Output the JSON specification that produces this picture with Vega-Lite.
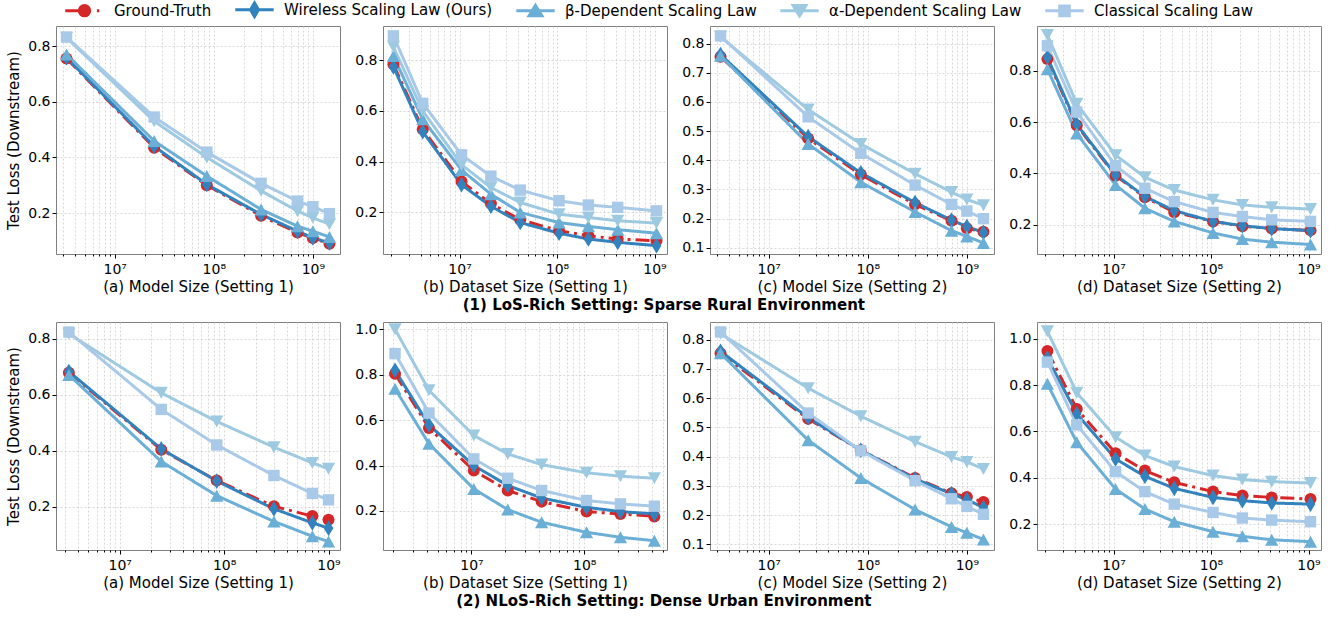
{
"$schema": "https://vega.github.io/schema/vega-lite/v6.json",
"padding": {"left": 6, "top": 0, "right": 5, "bottom": 5},
"background": "white",
"datasets": {"d": [
{"p":"r1a","s":"GT","x":3260000,"y":0.755},{"p":"r1a","s":"GT","x":25000000,"y":0.435},{"p":"r1a","s":"GT","x":85000000,"y":0.300},{"p":"r1a","s":"GT","x":300000000,"y":0.190},{"p":"r1a","s":"GT","x":700000000,"y":0.130},{"p":"r1a","s":"GT","x":1000000000,"y":0.110},{"p":"r1a","s":"GT","x":1470000000,"y":0.090},
{"p":"r1a","s":"W","x":3260000,"y":0.758},{"p":"r1a","s":"W","x":25000000,"y":0.440},{"p":"r1a","s":"W","x":85000000,"y":0.303},{"p":"r1a","s":"W","x":300000000,"y":0.195},{"p":"r1a","s":"W","x":700000000,"y":0.135},{"p":"r1a","s":"W","x":1000000000,"y":0.111},{"p":"r1a","s":"W","x":1470000000,"y":0.093},
{"p":"r1a","s":"B","x":3260000,"y":0.770},{"p":"r1a","s":"B","x":25000000,"y":0.459},{"p":"r1a","s":"B","x":85000000,"y":0.333},{"p":"r1a","s":"B","x":300000000,"y":0.213},{"p":"r1a","s":"B","x":700000000,"y":0.153},{"p":"r1a","s":"B","x":1000000000,"y":0.135},{"p":"r1a","s":"B","x":1470000000,"y":0.114},
{"p":"r1a","s":"A","x":3260000,"y":0.830},{"p":"r1a","s":"A","x":25000000,"y":0.530},{"p":"r1a","s":"A","x":85000000,"y":0.400},{"p":"r1a","s":"A","x":300000000,"y":0.280},{"p":"r1a","s":"A","x":700000000,"y":0.207},{"p":"r1a","s":"A","x":1000000000,"y":0.183},{"p":"r1a","s":"A","x":1470000000,"y":0.160},
{"p":"r1a","s":"C","x":3260000,"y":0.832},{"p":"r1a","s":"C","x":25000000,"y":0.545},{"p":"r1a","s":"C","x":85000000,"y":0.419},{"p":"r1a","s":"C","x":300000000,"y":0.307},{"p":"r1a","s":"C","x":700000000,"y":0.243},{"p":"r1a","s":"C","x":1000000000,"y":0.223},{"p":"r1a","s":"C","x":1470000000,"y":0.198},

{"p":"r1b","s":"GT","x":2097152,"y":0.784},{"p":"r1b","s":"GT","x":4194304,"y":0.528},{"p":"r1b","s":"GT","x":10485760,"y":0.322},{"p":"r1b","s":"GT","x":20971520,"y":0.235},{"p":"r1b","s":"GT","x":41943040,"y":0.171},{"p":"r1b","s":"GT","x":104857600,"y":0.128},{"p":"r1b","s":"GT","x":209715200,"y":0.108},{"p":"r1b","s":"GT","x":419430400,"y":0.095},{"p":"r1b","s":"GT","x":1048576000,"y":0.088},
{"p":"r1b","s":"W","x":2097152,"y":0.774},{"p":"r1b","s":"W","x":4194304,"y":0.518},{"p":"r1b","s":"W","x":10485760,"y":0.309},{"p":"r1b","s":"W","x":20971520,"y":0.224},{"p":"r1b","s":"W","x":41943040,"y":0.160},{"p":"r1b","s":"W","x":104857600,"y":0.118},{"p":"r1b","s":"W","x":209715200,"y":0.095},{"p":"r1b","s":"W","x":419430400,"y":0.082},{"p":"r1b","s":"W","x":1048576000,"y":0.069},
{"p":"r1b","s":"B","x":2097152,"y":0.817},{"p":"r1b","s":"B","x":4194304,"y":0.567},{"p":"r1b","s":"B","x":10485760,"y":0.367},{"p":"r1b","s":"B","x":20971520,"y":0.272},{"p":"r1b","s":"B","x":41943040,"y":0.200},{"p":"r1b","s":"B","x":104857600,"y":0.160},{"p":"r1b","s":"B","x":209715200,"y":0.145},{"p":"r1b","s":"B","x":419430400,"y":0.132},{"p":"r1b","s":"B","x":1048576000,"y":0.118},
{"p":"r1b","s":"A","x":2097152,"y":0.853},{"p":"r1b","s":"A","x":4194304,"y":0.600},{"p":"r1b","s":"A","x":10485760,"y":0.388},{"p":"r1b","s":"A","x":20971520,"y":0.298},{"p":"r1b","s":"A","x":41943040,"y":0.239},{"p":"r1b","s":"A","x":104857600,"y":0.193},{"p":"r1b","s":"A","x":209715200,"y":0.180},{"p":"r1b","s":"A","x":419430400,"y":0.167},{"p":"r1b","s":"A","x":1048576000,"y":0.158},
{"p":"r1b","s":"C","x":2097152,"y":0.896},{"p":"r1b","s":"C","x":4194304,"y":0.630},{"p":"r1b","s":"C","x":10485760,"y":0.427},{"p":"r1b","s":"C","x":20971520,"y":0.343},{"p":"r1b","s":"C","x":41943040,"y":0.288},{"p":"r1b","s":"C","x":104857600,"y":0.246},{"p":"r1b","s":"C","x":209715200,"y":0.229},{"p":"r1b","s":"C","x":419430400,"y":0.220},{"p":"r1b","s":"C","x":1048576000,"y":0.206},

{"p":"r1c","s":"GT","x":3260000,"y":0.755},{"p":"r1c","s":"GT","x":25000000,"y":0.475},{"p":"r1c","s":"GT","x":85000000,"y":0.351},{"p":"r1c","s":"GT","x":300000000,"y":0.249},{"p":"r1c","s":"GT","x":700000000,"y":0.193},{"p":"r1c","s":"GT","x":1000000000,"y":0.167},{"p":"r1c","s":"GT","x":1470000000,"y":0.155},
{"p":"r1c","s":"W","x":3260000,"y":0.762},{"p":"r1c","s":"W","x":25000000,"y":0.481},{"p":"r1c","s":"W","x":85000000,"y":0.357},{"p":"r1c","s":"W","x":300000000,"y":0.255},{"p":"r1c","s":"W","x":700000000,"y":0.195},{"p":"r1c","s":"W","x":1000000000,"y":0.173},{"p":"r1c","s":"W","x":1470000000,"y":0.153},
{"p":"r1c","s":"B","x":3260000,"y":0.758},{"p":"r1c","s":"B","x":25000000,"y":0.456},{"p":"r1c","s":"B","x":85000000,"y":0.325},{"p":"r1c","s":"B","x":300000000,"y":0.223},{"p":"r1c","s":"B","x":700000000,"y":0.159},{"p":"r1c","s":"B","x":1000000000,"y":0.139},{"p":"r1c","s":"B","x":1470000000,"y":0.117},
{"p":"r1c","s":"A","x":3260000,"y":0.823},{"p":"r1c","s":"A","x":25000000,"y":0.574},{"p":"r1c","s":"A","x":85000000,"y":0.456},{"p":"r1c","s":"A","x":300000000,"y":0.354},{"p":"r1c","s":"A","x":700000000,"y":0.291},{"p":"r1c","s":"A","x":1000000000,"y":0.266},{"p":"r1c","s":"A","x":1470000000,"y":0.246},
{"p":"r1c","s":"C","x":3260000,"y":0.826},{"p":"r1c","s":"C","x":25000000,"y":0.549},{"p":"r1c","s":"C","x":85000000,"y":0.424},{"p":"r1c","s":"C","x":300000000,"y":0.315},{"p":"r1c","s":"C","x":700000000,"y":0.249},{"p":"r1c","s":"C","x":1000000000,"y":0.226},{"p":"r1c","s":"C","x":1470000000,"y":0.200},

{"p":"r1d","s":"GT","x":2097152,"y":0.845},{"p":"r1d","s":"GT","x":4194304,"y":0.587},{"p":"r1d","s":"GT","x":10485760,"y":0.391},{"p":"r1d","s":"GT","x":20971520,"y":0.307},{"p":"r1d","s":"GT","x":41943040,"y":0.249},{"p":"r1d","s":"GT","x":104857600,"y":0.213},{"p":"r1d","s":"GT","x":209715200,"y":0.194},{"p":"r1d","s":"GT","x":419430400,"y":0.185},{"p":"r1d","s":"GT","x":1048576000,"y":0.178},
{"p":"r1d","s":"W","x":2097152,"y":0.852},{"p":"r1d","s":"W","x":4194304,"y":0.591},{"p":"r1d","s":"W","x":10485760,"y":0.394},{"p":"r1d","s":"W","x":20971520,"y":0.310},{"p":"r1d","s":"W","x":41943040,"y":0.255},{"p":"r1d","s":"W","x":104857600,"y":0.213},{"p":"r1d","s":"W","x":209715200,"y":0.196},{"p":"r1d","s":"W","x":419430400,"y":0.185},{"p":"r1d","s":"W","x":1048576000,"y":0.177},
{"p":"r1d","s":"B","x":2097152,"y":0.806},{"p":"r1d","s":"B","x":4194304,"y":0.555},{"p":"r1d","s":"B","x":10485760,"y":0.355},{"p":"r1d","s":"B","x":20971520,"y":0.264},{"p":"r1d","s":"B","x":41943040,"y":0.213},{"p":"r1d","s":"B","x":104857600,"y":0.168},{"p":"r1d","s":"B","x":209715200,"y":0.144},{"p":"r1d","s":"B","x":419430400,"y":0.132},{"p":"r1d","s":"B","x":1048576000,"y":0.123},
{"p":"r1d","s":"A","x":2097152,"y":0.939},{"p":"r1d","s":"A","x":4194304,"y":0.671},{"p":"r1d","s":"A","x":10485760,"y":0.471},{"p":"r1d","s":"A","x":20971520,"y":0.385},{"p":"r1d","s":"A","x":41943040,"y":0.335},{"p":"r1d","s":"A","x":104857600,"y":0.297},{"p":"r1d","s":"A","x":209715200,"y":0.277},{"p":"r1d","s":"A","x":419430400,"y":0.268},{"p":"r1d","s":"A","x":1048576000,"y":0.261},
{"p":"r1d","s":"C","x":2097152,"y":0.897},{"p":"r1d","s":"C","x":4194304,"y":0.639},{"p":"r1d","s":"C","x":10485760,"y":0.430},{"p":"r1d","s":"C","x":20971520,"y":0.342},{"p":"r1d","s":"C","x":41943040,"y":0.290},{"p":"r1d","s":"C","x":104857600,"y":0.248},{"p":"r1d","s":"C","x":209715200,"y":0.232},{"p":"r1d","s":"C","x":419430400,"y":0.219},{"p":"r1d","s":"C","x":1048576000,"y":0.213},

{"p":"r2a","s":"GT","x":3260000,"y":0.679},{"p":"r2a","s":"GT","x":25000000,"y":0.404},{"p":"r2a","s":"GT","x":85000000,"y":0.294},{"p":"r2a","s":"GT","x":300000000,"y":0.202},{"p":"r2a","s":"GT","x":700000000,"y":0.167},{"p":"r2a","s":"GT","x":1000000000,"y":0.154},
{"p":"r2a","s":"W","x":3260000,"y":0.683},{"p":"r2a","s":"W","x":25000000,"y":0.407},{"p":"r2a","s":"W","x":85000000,"y":0.292},{"p":"r2a","s":"W","x":300000000,"y":0.193},{"p":"r2a","s":"W","x":700000000,"y":0.143},{"p":"r2a","s":"W","x":1000000000,"y":0.124},
{"p":"r2a","s":"B","x":3260000,"y":0.671},{"p":"r2a","s":"B","x":25000000,"y":0.362},{"p":"r2a","s":"B","x":85000000,"y":0.240},{"p":"r2a","s":"B","x":300000000,"y":0.148},{"p":"r2a","s":"B","x":700000000,"y":0.095},{"p":"r2a","s":"B","x":1000000000,"y":0.076},
{"p":"r2a","s":"A","x":3260000,"y":0.818},{"p":"r2a","s":"A","x":25000000,"y":0.607},{"p":"r2a","s":"A","x":85000000,"y":0.505},{"p":"r2a","s":"A","x":300000000,"y":0.413},{"p":"r2a","s":"A","x":700000000,"y":0.357},{"p":"r2a","s":"A","x":1000000000,"y":0.336},
{"p":"r2a","s":"C","x":3260000,"y":0.824},{"p":"r2a","s":"C","x":25000000,"y":0.548},{"p":"r2a","s":"C","x":85000000,"y":0.421},{"p":"r2a","s":"C","x":300000000,"y":0.312},{"p":"r2a","s":"C","x":700000000,"y":0.248},{"p":"r2a","s":"C","x":1000000000,"y":0.225},

{"p":"r2b","s":"GT","x":2097152,"y":0.804},{"p":"r2b","s":"GT","x":4194304,"y":0.565},{"p":"r2b","s":"GT","x":10485760,"y":0.378},{"p":"r2b","s":"GT","x":20971520,"y":0.290},{"p":"r2b","s":"GT","x":41943040,"y":0.241},{"p":"r2b","s":"GT","x":104857600,"y":0.197},{"p":"r2b","s":"GT","x":209715200,"y":0.187},{"p":"r2b","s":"GT","x":419430400,"y":0.176},
{"p":"r2b","s":"W","x":2097152,"y":0.819},{"p":"r2b","s":"W","x":4194304,"y":0.579},{"p":"r2b","s":"W","x":10485760,"y":0.400},{"p":"r2b","s":"W","x":20971520,"y":0.312},{"p":"r2b","s":"W","x":41943040,"y":0.257},{"p":"r2b","s":"W","x":104857600,"y":0.216},{"p":"r2b","s":"W","x":209715200,"y":0.197},{"p":"r2b","s":"W","x":419430400,"y":0.187},
{"p":"r2b","s":"B","x":2097152,"y":0.738},{"p":"r2b","s":"B","x":4194304,"y":0.496},{"p":"r2b","s":"B","x":10485760,"y":0.297},{"p":"r2b","s":"B","x":20971520,"y":0.206},{"p":"r2b","s":"B","x":41943040,"y":0.150},{"p":"r2b","s":"B","x":104857600,"y":0.106},{"p":"r2b","s":"B","x":209715200,"y":0.084},{"p":"r2b","s":"B","x":419430400,"y":0.069},
{"p":"r2b","s":"A","x":2097152,"y":1.000},{"p":"r2b","s":"A","x":4194304,"y":0.731},{"p":"r2b","s":"A","x":10485760,"y":0.532},{"p":"r2b","s":"A","x":20971520,"y":0.451},{"p":"r2b","s":"A","x":41943040,"y":0.404},{"p":"r2b","s":"A","x":104857600,"y":0.368},{"p":"r2b","s":"A","x":209715200,"y":0.353},{"p":"r2b","s":"A","x":419430400,"y":0.344},
{"p":"r2b","s":"C","x":2097152,"y":0.893},{"p":"r2b","s":"C","x":4194304,"y":0.631},{"p":"r2b","s":"C","x":10485760,"y":0.429},{"p":"r2b","s":"C","x":20971520,"y":0.344},{"p":"r2b","s":"C","x":41943040,"y":0.290},{"p":"r2b","s":"C","x":104857600,"y":0.246},{"p":"r2b","s":"C","x":209715200,"y":0.231},{"p":"r2b","s":"C","x":419430400,"y":0.221},

{"p":"r2c","s":"GT","x":3260000,"y":0.753},{"p":"r2c","s":"GT","x":25000000,"y":0.529},{"p":"r2c","s":"GT","x":85000000,"y":0.422},{"p":"r2c","s":"GT","x":300000000,"y":0.327},{"p":"r2c","s":"GT","x":700000000,"y":0.275},{"p":"r2c","s":"GT","x":1000000000,"y":0.262},{"p":"r2c","s":"GT","x":1470000000,"y":0.245},
{"p":"r2c","s":"W","x":3260000,"y":0.760},{"p":"r2c","s":"W","x":25000000,"y":0.533},{"p":"r2c","s":"W","x":85000000,"y":0.422},{"p":"r2c","s":"W","x":300000000,"y":0.324},{"p":"r2c","s":"W","x":700000000,"y":0.273},{"p":"r2c","s":"W","x":1000000000,"y":0.253},{"p":"r2c","s":"W","x":1470000000,"y":0.226},
{"p":"r2c","s":"B","x":3260000,"y":0.753},{"p":"r2c","s":"B","x":25000000,"y":0.456},{"p":"r2c","s":"B","x":85000000,"y":0.327},{"p":"r2c","s":"B","x":300000000,"y":0.219},{"p":"r2c","s":"B","x":700000000,"y":0.160},{"p":"r2c","s":"B","x":1000000000,"y":0.140},{"p":"r2c","s":"B","x":1470000000,"y":0.117},
{"p":"r2c","s":"A","x":3260000,"y":0.820},{"p":"r2c","s":"A","x":25000000,"y":0.634},{"p":"r2c","s":"A","x":85000000,"y":0.538},{"p":"r2c","s":"A","x":300000000,"y":0.451},{"p":"r2c","s":"A","x":700000000,"y":0.399},{"p":"r2c","s":"A","x":1000000000,"y":0.382},{"p":"r2c","s":"A","x":1470000000,"y":0.358},
{"p":"r2c","s":"C","x":3260000,"y":0.826},{"p":"r2c","s":"C","x":25000000,"y":0.549},{"p":"r2c","s":"C","x":85000000,"y":0.420},{"p":"r2c","s":"C","x":300000000,"y":0.318},{"p":"r2c","s":"C","x":700000000,"y":0.256},{"p":"r2c","s":"C","x":1000000000,"y":0.230},{"p":"r2c","s":"C","x":1470000000,"y":0.203},

{"p":"r2d","s":"GT","x":2097152,"y":0.947},{"p":"r2d","s":"GT","x":4194304,"y":0.697},{"p":"r2d","s":"GT","x":10485760,"y":0.506},{"p":"r2d","s":"GT","x":20971520,"y":0.431},{"p":"r2d","s":"GT","x":41943040,"y":0.380},{"p":"r2d","s":"GT","x":104857600,"y":0.340},{"p":"r2d","s":"GT","x":209715200,"y":0.323},{"p":"r2d","s":"GT","x":419430400,"y":0.315},{"p":"r2d","s":"GT","x":1048576000,"y":0.308},
{"p":"r2d","s":"W","x":2097152,"y":0.916},{"p":"r2d","s":"W","x":4194304,"y":0.676},{"p":"r2d","s":"W","x":10485760,"y":0.481},{"p":"r2d","s":"W","x":20971520,"y":0.406},{"p":"r2d","s":"W","x":41943040,"y":0.354},{"p":"r2d","s":"W","x":104857600,"y":0.315},{"p":"r2d","s":"W","x":209715200,"y":0.301},{"p":"r2d","s":"W","x":419430400,"y":0.291},{"p":"r2d","s":"W","x":1048576000,"y":0.286},
{"p":"r2d","s":"B","x":2097152,"y":0.805},{"p":"r2d","s":"B","x":4194304,"y":0.553},{"p":"r2d","s":"B","x":10485760,"y":0.351},{"p":"r2d","s":"B","x":20971520,"y":0.265},{"p":"r2d","s":"B","x":41943040,"y":0.210},{"p":"r2d","s":"B","x":104857600,"y":0.167},{"p":"r2d","s":"B","x":209715200,"y":0.147},{"p":"r2d","s":"B","x":419430400,"y":0.132},{"p":"r2d","s":"B","x":1048576000,"y":0.124},
{"p":"r2d","s":"A","x":2097152,"y":1.032},{"p":"r2d","s":"A","x":4194304,"y":0.767},{"p":"r2d","s":"A","x":10485760,"y":0.575},{"p":"r2d","s":"A","x":20971520,"y":0.496},{"p":"r2d","s":"A","x":41943040,"y":0.448},{"p":"r2d","s":"A","x":104857600,"y":0.409},{"p":"r2d","s":"A","x":209715200,"y":0.392},{"p":"r2d","s":"A","x":419430400,"y":0.383},{"p":"r2d","s":"A","x":1048576000,"y":0.377},
{"p":"r2d","s":"C","x":2097152,"y":0.899},{"p":"r2d","s":"C","x":4194304,"y":0.628},{"p":"r2d","s":"C","x":10485760,"y":0.426},{"p":"r2d","s":"C","x":20971520,"y":0.340},{"p":"r2d","s":"C","x":41943040,"y":0.286},{"p":"r2d","s":"C","x":104857600,"y":0.250},{"p":"r2d","s":"C","x":209715200,"y":0.226},{"p":"r2d","s":"C","x":419430400,"y":0.217},{"p":"r2d","s":"C","x":1048576000,"y":0.210}
]},
"data": {"name": "d"},
"config": {
  "font": "DejaVu Sans",
  "view": {"stroke": "#808080", "strokeWidth": 1},
  "axis": {"labelFont": "DejaVu Sans", "labelFontSize": 14, "labelColor": "#000", "titleFont": "DejaVu Sans", "titleFontSize": 15, "titleFontWeight": "normal", "titleColor": "#000", "domain": false, "tickColor": "#000", "tickWidth": 1, "gridColor": "#cfcfcf", "gridDash": [2, 2], "gridWidth": 0.8, "labelPadding": 2},
  "axisX": {"titlePadding": 3, "labelPadding": 4, "labelOverlap": false, "labelFlush": false},
  "axisY": {"titlePadding": 6, "tickSize": 4, "format": ".1f"},
  "legend": {"orient": "top", "direction": "horizontal", "labelFont": "DejaVu Sans", "labelFontSize": 15, "labelColor": "#000", "labelLimit": 400, "symbolSize": 256, "symbolStrokeWidth": 3, "labelOffset": 20, "columnPadding": 17, "offset": 2, "padding": 0, "layout": {"top": {"anchor": "middle"}}},
  "title": {"font": "DejaVu Sans", "fontSize": 15, "fontWeight": "bold", "color": "#000"}
},
"spacing": 8,
"vconcat": [
{"hconcat": [
 {"width": 284, "height": 228, "transform": [{"filter": "datum.p=='r1a'"}],
  "encoding": {
   "x": {"field": "x", "type": "quantitative", "scale": {"type": "log", "domain": [2553000, 1879000000], "nice": false}, "axis": {"title": "(a) Model Size (Setting 1)", "values": [3e6,4e6,5e6,6e6,7e6,8e6,9e6,1e7,2e7,3e7,4e7,5e7,6e7,7e7,8e7,9e7,1e8,2e8,3e8,4e8,5e8,6e8,7e8,8e8,9e8,1e9], "labelExpr": "datum.value==1e7?'10⁷':datum.value==1e8?'10⁸':datum.value==1e9?'10⁹':''", "tickSize": {"condition": {"test": "datum.value==1e7||datum.value==1e8||datum.value==1e9", "value": 4}, "value": 2}}},
   "y": {"field": "y", "type": "quantitative", "scale": {"domain": [0.053, 0.872], "nice": false, "zero": false}, "axis": {"title": "Test Loss (Downstream)", "values": [0.2, 0.4, 0.6, 0.8]}},
   "color": {"field": "s", "type": "nominal", "scale": {"domain": ["GT", "W", "B", "A", "C"], "range": ["#d62728", "#3182bd", "#6baed6", "#9ecae1", "#a9c9e8"]},
     "legend": {"title": null, "labelExpr": "datum.value=='GT'?'Ground-Truth':datum.value=='W'?'Wireless Scaling Law (Ours)':datum.value=='B'?'β-Dependent Scaling Law':datum.value=='A'?'α-Dependent Scaling Law':'Classical Scaling Law'",
       "encode": {"symbols": {"update": {"shape": {"signal": "datum.value=='GT'?'M-2.4,0H0M1.55,0H1.85M0.65,0A0.65,0.65,0,1,1,-0.65,0A0.65,0.65,0,1,1,0.65,0Z':datum.value=='W'?'M-2.4,0H2.4M0,-0.85L0.5,0L0,0.85L-0.5,0Z':datum.value=='B'?'M-2.4,0H2.4M0,-0.65L0.8,0.65L-0.8,0.65Z':datum.value=='A'?'M-2.4,0H2.4M0,0.65L0.8,-0.65L-0.8,-0.65Z':'M-2.4,0H2.4M-0.6,-0.6H0.6V0.6H-0.6Z'"}, "fill": {"scale": "color", "field": "value"}, "stroke": {"scale": "color", "field": "value"}, "strokeWidth": {"value": 3}, "strokeDash": {"value": []}, "opacity": {"value": 1}}}}}}
  },
  "layer": [
   {"mark": {"type": "line", "strokeWidth": 3, "clip": true}, "encoding": {"strokeDash": {"field": "s", "type": "nominal", "scale": {"range": [[1, 0], [1, 0], [1, 0], [14, 5, 3, 5], [1, 0]]}, "legend": null}}},
   {"mark": {"type": "point", "filled": true, "opacity": 1, "size": 144, "clip": true}, "encoding": {"shape": {"field": "s", "type": "nominal", "scale": {"range": ["M0,1L1.1,-1L-1.1,-1Z", "M0,-1L1.1,1L-1.1,1Z", "M-0.95,-0.95H0.95V0.95H-0.95Z", "circle", "M0,-1.3L0.8,0L0,1.3L-0.8,0Z"]}, "legend": null}}}
  ]},
 {"width": 284, "height": 228, "transform": [{"filter": "datum.p=='r1b'"}],
  "encoding": {
   "x": {"field": "x", "type": "quantitative", "scale": {"type": "log", "domain": [1640000, 1343000000], "nice": false}, "axis": {"title": "(b) Dataset Size (Setting 1)", "values": [2e6,3e6,4e6,5e6,6e6,7e6,8e6,9e6,1e7,2e7,3e7,4e7,5e7,6e7,7e7,8e7,9e7,1e8,2e8,3e8,4e8,5e8,6e8,7e8,8e8,9e8,1e9], "labelExpr": "datum.value==1e7?'10⁷':datum.value==1e8?'10⁸':datum.value==1e9?'10⁹':''", "tickSize": {"condition": {"test": "datum.value==1e7||datum.value==1e8||datum.value==1e9", "value": 4}, "value": 2}}},
   "y": {"field": "y", "type": "quantitative", "scale": {"domain": [0.036, 0.935], "nice": false, "zero": false}, "axis": {"title": null, "values": [0.2, 0.4, 0.6, 0.8]}},
   "color": {"field": "s", "type": "nominal", "scale": {"domain": ["GT", "W", "B", "A", "C"], "range": ["#d62728", "#3182bd", "#6baed6", "#9ecae1", "#a9c9e8"]}, "legend": null}
  },
  "layer": [
   {"mark": {"type": "line", "strokeWidth": 3, "clip": true}, "encoding": {"strokeDash": {"field": "s", "type": "nominal", "scale": {"range": [[1, 0], [1, 0], [1, 0], [14, 5, 3, 5], [1, 0]]}, "legend": null}}},
   {"mark": {"type": "point", "filled": true, "opacity": 1, "size": 144, "clip": true}, "encoding": {"shape": {"field": "s", "type": "nominal", "scale": {"range": ["M0,1L1.1,-1L-1.1,-1Z", "M0,-1L1.1,1L-1.1,1Z", "M-0.95,-0.95H0.95V0.95H-0.95Z", "circle", "M0,-1.3L0.8,0L0,1.3L-0.8,0Z"]}, "legend": null}}}
  ]},
 {"width": 284, "height": 228, "transform": [{"filter": "datum.p=='r1c'"}],
  "encoding": {
   "x": {"field": "x", "type": "quantitative", "scale": {"type": "log", "domain": [2553000, 1879000000], "nice": false}, "axis": {"title": "(c) Model Size (Setting 2)", "values": [3e6,4e6,5e6,6e6,7e6,8e6,9e6,1e7,2e7,3e7,4e7,5e7,6e7,7e7,8e7,9e7,1e8,2e8,3e8,4e8,5e8,6e8,7e8,8e8,9e8,1e9], "labelExpr": "datum.value==1e7?'10⁷':datum.value==1e8?'10⁸':datum.value==1e9?'10⁹':''", "tickSize": {"condition": {"test": "datum.value==1e7||datum.value==1e8||datum.value==1e9", "value": 4}, "value": 2}}},
   "y": {"field": "y", "type": "quantitative", "scale": {"domain": [0.079, 0.86], "nice": false, "zero": false}, "axis": {"title": null, "values": [0.1, 0.2, 0.3, 0.4, 0.5, 0.6, 0.7, 0.8]}},
   "color": {"field": "s", "type": "nominal", "scale": {"domain": ["GT", "W", "B", "A", "C"], "range": ["#d62728", "#3182bd", "#6baed6", "#9ecae1", "#a9c9e8"]}, "legend": null}
  },
  "layer": [
   {"mark": {"type": "line", "strokeWidth": 3, "clip": true}, "encoding": {"strokeDash": {"field": "s", "type": "nominal", "scale": {"range": [[1, 0], [1, 0], [1, 0], [14, 5, 3, 5], [1, 0]]}, "legend": null}}},
   {"mark": {"type": "point", "filled": true, "opacity": 1, "size": 144, "clip": true}, "encoding": {"shape": {"field": "s", "type": "nominal", "scale": {"range": ["M0,1L1.1,-1L-1.1,-1Z", "M0,-1L1.1,1L-1.1,1Z", "M-0.95,-0.95H0.95V0.95H-0.95Z", "circle", "M0,-1.3L0.8,0L0,1.3L-0.8,0Z"]}, "legend": null}}}
  ]},
 {"width": 284, "height": 228, "transform": [{"filter": "datum.p=='r1d'"}],
  "encoding": {
   "x": {"field": "x", "type": "quantitative", "scale": {"type": "log", "domain": [1640000, 1343000000], "nice": false}, "axis": {"title": "(d) Dataset Size (Setting 2)", "values": [2e6,3e6,4e6,5e6,6e6,7e6,8e6,9e6,1e7,2e7,3e7,4e7,5e7,6e7,7e7,8e7,9e7,1e8,2e8,3e8,4e8,5e8,6e8,7e8,8e8,9e8,1e9], "labelExpr": "datum.value==1e7?'10⁷':datum.value==1e8?'10⁸':datum.value==1e9?'10⁹':''", "tickSize": {"condition": {"test": "datum.value==1e7||datum.value==1e8||datum.value==1e9", "value": 4}, "value": 2}}},
   "y": {"field": "y", "type": "quantitative", "scale": {"domain": [0.086, 0.974], "nice": false, "zero": false}, "axis": {"title": null, "values": [0.2, 0.4, 0.6, 0.8]}},
   "color": {"field": "s", "type": "nominal", "scale": {"domain": ["GT", "W", "B", "A", "C"], "range": ["#d62728", "#3182bd", "#6baed6", "#9ecae1", "#a9c9e8"]}, "legend": null}
  },
  "layer": [
   {"mark": {"type": "line", "strokeWidth": 3, "clip": true}, "encoding": {"strokeDash": {"field": "s", "type": "nominal", "scale": {"range": [[1, 0], [1, 0], [1, 0], [14, 5, 3, 5], [1, 0]]}, "legend": null}}},
   {"mark": {"type": "point", "filled": true, "opacity": 1, "size": 144, "clip": true}, "encoding": {"shape": {"field": "s", "type": "nominal", "scale": {"range": ["M0,1L1.1,-1L-1.1,-1Z", "M0,-1L1.1,1L-1.1,1Z", "M-0.95,-0.95H0.95V0.95H-0.95Z", "circle", "M0,-1.3L0.8,0L0,1.3L-0.8,0Z"]}, "legend": null}}}
  ]}
 ],
 "spacing": 43, "bounds": "flush",
 "title": {"text": "(1) LoS-Rich Setting: Sparse Rural Environment", "orient": "bottom", "anchor": "middle", "offset": 3}
},
{"hconcat": [
 {"width": 284, "height": 228, "transform": [{"filter": "datum.p=='r2a'"}],
  "encoding": {
   "x": {"field": "x", "type": "quantitative", "scale": {"type": "log", "domain": [2455000, 1288000000], "nice": false}, "axis": {"title": "(a) Model Size (Setting 1)", "values": [3e6,4e6,5e6,6e6,7e6,8e6,9e6,1e7,2e7,3e7,4e7,5e7,6e7,7e7,8e7,9e7,1e8,2e8,3e8,4e8,5e8,6e8,7e8,8e8,9e8,1e9], "labelExpr": "datum.value==1e7?'10⁷':datum.value==1e8?'10⁸':datum.value==1e9?'10⁹':''", "tickSize": {"condition": {"test": "datum.value==1e7||datum.value==1e8||datum.value==1e9", "value": 4}, "value": 2}}},
   "y": {"field": "y", "type": "quantitative", "scale": {"domain": [0.046, 0.86], "nice": false, "zero": false}, "axis": {"title": "Test Loss (Downstream)", "values": [0.2, 0.4, 0.6, 0.8]}},
   "color": {"field": "s", "type": "nominal", "scale": {"domain": ["GT", "W", "B", "A", "C"], "range": ["#d62728", "#3182bd", "#6baed6", "#9ecae1", "#a9c9e8"]}, "legend": null}
  },
  "layer": [
   {"mark": {"type": "line", "strokeWidth": 3, "clip": true}, "encoding": {"strokeDash": {"field": "s", "type": "nominal", "scale": {"range": [[1, 0], [1, 0], [1, 0], [14, 5, 3, 5], [1, 0]]}, "legend": null}}},
   {"mark": {"type": "point", "filled": true, "opacity": 1, "size": 144, "clip": true}, "encoding": {"shape": {"field": "s", "type": "nominal", "scale": {"range": ["M0,1L1.1,-1L-1.1,-1Z", "M0,-1L1.1,1L-1.1,1Z", "M-0.95,-0.95H0.95V0.95H-0.95Z", "circle", "M0,-1.3L0.8,0L0,1.3L-0.8,0Z"]}, "legend": null}}}
  ]},
 {"width": 284, "height": 228, "transform": [{"filter": "datum.p=='r2b'"}],
  "encoding": {
   "x": {"field": "x", "type": "quantitative", "scale": {"type": "log", "domain": [1640000, 543000000], "nice": false}, "axis": {"title": "(b) Dataset Size (Setting 1)", "values": [2e6,3e6,4e6,5e6,6e6,7e6,8e6,9e6,1e7,2e7,3e7,4e7,5e7,6e7,7e7,8e7,9e7,1e8,2e8,3e8,4e8,5e8], "labelExpr": "datum.value==1e7?'10⁷':datum.value==1e8?'10⁸':datum.value==1e9?'10⁹':''", "tickSize": {"condition": {"test": "datum.value==1e7||datum.value==1e8||datum.value==1e9", "value": 4}, "value": 2}}},
   "y": {"field": "y", "type": "quantitative", "scale": {"domain": [0.028, 1.032], "nice": false, "zero": false}, "axis": {"title": null, "values": [0.2, 0.4, 0.6, 0.8, 1.0]}},
   "color": {"field": "s", "type": "nominal", "scale": {"domain": ["GT", "W", "B", "A", "C"], "range": ["#d62728", "#3182bd", "#6baed6", "#9ecae1", "#a9c9e8"]}, "legend": null}
  },
  "layer": [
   {"mark": {"type": "line", "strokeWidth": 3, "clip": true}, "encoding": {"strokeDash": {"field": "s", "type": "nominal", "scale": {"range": [[1, 0], [1, 0], [1, 0], [14, 5, 3, 5], [1, 0]]}, "legend": null}}},
   {"mark": {"type": "point", "filled": true, "opacity": 1, "size": 144, "clip": true}, "encoding": {"shape": {"field": "s", "type": "nominal", "scale": {"range": ["M0,1L1.1,-1L-1.1,-1Z", "M0,-1L1.1,1L-1.1,1Z", "M-0.95,-0.95H0.95V0.95H-0.95Z", "circle", "M0,-1.3L0.8,0L0,1.3L-0.8,0Z"]}, "legend": null}}}
  ]},
 {"width": 284, "height": 228, "transform": [{"filter": "datum.p=='r2c'"}],
  "encoding": {
   "x": {"field": "x", "type": "quantitative", "scale": {"type": "log", "domain": [2553000, 1879000000], "nice": false}, "axis": {"title": "(c) Model Size (Setting 2)", "values": [3e6,4e6,5e6,6e6,7e6,8e6,9e6,1e7,2e7,3e7,4e7,5e7,6e7,7e7,8e7,9e7,1e8,2e8,3e8,4e8,5e8,6e8,7e8,8e8,9e8,1e9], "labelExpr": "datum.value==1e7?'10⁷':datum.value==1e8?'10⁸':datum.value==1e9?'10⁹':''", "tickSize": {"condition": {"test": "datum.value==1e7||datum.value==1e8||datum.value==1e9", "value": 4}, "value": 2}}},
   "y": {"field": "y", "type": "quantitative", "scale": {"domain": [0.081, 0.86], "nice": false, "zero": false}, "axis": {"title": null, "values": [0.1, 0.2, 0.3, 0.4, 0.5, 0.6, 0.7, 0.8]}},
   "color": {"field": "s", "type": "nominal", "scale": {"domain": ["GT", "W", "B", "A", "C"], "range": ["#d62728", "#3182bd", "#6baed6", "#9ecae1", "#a9c9e8"]}, "legend": null}
  },
  "layer": [
   {"mark": {"type": "line", "strokeWidth": 3, "clip": true}, "encoding": {"strokeDash": {"field": "s", "type": "nominal", "scale": {"range": [[1, 0], [1, 0], [1, 0], [14, 5, 3, 5], [1, 0]]}, "legend": null}}},
   {"mark": {"type": "point", "filled": true, "opacity": 1, "size": 144, "clip": true}, "encoding": {"shape": {"field": "s", "type": "nominal", "scale": {"range": ["M0,1L1.1,-1L-1.1,-1Z", "M0,-1L1.1,1L-1.1,1Z", "M-0.95,-0.95H0.95V0.95H-0.95Z", "circle", "M0,-1.3L0.8,0L0,1.3L-0.8,0Z"]}, "legend": null}}}
  ]},
 {"width": 284, "height": 228, "transform": [{"filter": "datum.p=='r2d'"}],
  "encoding": {
   "x": {"field": "x", "type": "quantitative", "scale": {"type": "log", "domain": [1640000, 1343000000], "nice": false}, "axis": {"title": "(d) Dataset Size (Setting 2)", "values": [2e6,3e6,4e6,5e6,6e6,7e6,8e6,9e6,1e7,2e7,3e7,4e7,5e7,6e7,7e7,8e7,9e7,1e8,2e8,3e8,4e8,5e8,6e8,7e8,8e8,9e8,1e9], "labelExpr": "datum.value==1e7?'10⁷':datum.value==1e8?'10⁸':datum.value==1e9?'10⁹':''", "tickSize": {"condition": {"test": "datum.value==1e7||datum.value==1e8||datum.value==1e9", "value": 4}, "value": 2}}},
   "y": {"field": "y", "type": "quantitative", "scale": {"domain": [0.088, 1.072], "nice": false, "zero": false}, "axis": {"title": null, "values": [0.2, 0.4, 0.6, 0.8, 1.0]}},
   "color": {"field": "s", "type": "nominal", "scale": {"domain": ["GT", "W", "B", "A", "C"], "range": ["#d62728", "#3182bd", "#6baed6", "#9ecae1", "#a9c9e8"]}, "legend": null}
  },
  "layer": [
   {"mark": {"type": "line", "strokeWidth": 3, "clip": true}, "encoding": {"strokeDash": {"field": "s", "type": "nominal", "scale": {"range": [[1, 0], [1, 0], [1, 0], [14, 5, 3, 5], [1, 0]]}, "legend": null}}},
   {"mark": {"type": "point", "filled": true, "opacity": 1, "size": 144, "clip": true}, "encoding": {"shape": {"field": "s", "type": "nominal", "scale": {"range": ["M0,1L1.1,-1L-1.1,-1Z", "M0,-1L1.1,1L-1.1,1Z", "M-0.95,-0.95H0.95V0.95H-0.95Z", "circle", "M0,-1.3L0.8,0L0,1.3L-0.8,0Z"]}, "legend": null}}}
  ]}
 ],
 "spacing": 43, "bounds": "flush",
 "title": {"text": "(2) NLoS-Rich Setting: Dense Urban Environment", "orient": "bottom", "anchor": "middle", "offset": 3}
}
],
"resolve": {"scale": {"color": "shared", "shape": "shared", "strokeDash": "shared"}}
}
